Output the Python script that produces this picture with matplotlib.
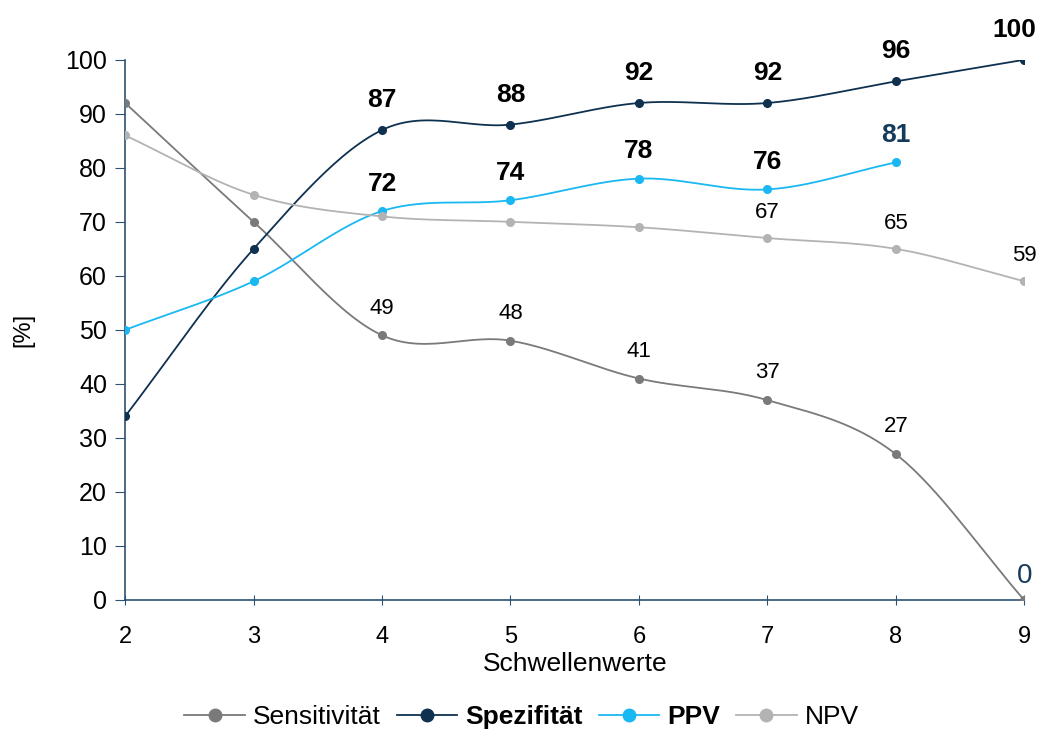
import numpy as np
import matplotlib.pyplot as plt

plt.rcParams['font.family'] = ['Liberation Sans', 'DejaVu Sans']

schwellen = [2, 3, 4, 5, 6, 7, 8, 9]
sensitivitaet = [92, 70, 49, 48, 41, 37, 27, 0]
spezifitaet = [34, 65, 87, 88, 92, 92, 96, 100]
ppv = [50, 59, 72, 74, 78, 76, 81]
npv = [86, 75, 71, 70, 69, 67, 65, 59]

c_sens = '#7a7a7a'
c_spez = '#0f3150'
c_ppv = '#1ab8f2'
c_npv = '#b3b3b3'
c_axis = '#2b5173'


def smooth(x, y, n=30):
    # Catmull-Rom spline, like Excel's smoothed lines
    x = np.asarray(x, float)
    y = np.asarray(y, float)
    px = np.concatenate([[2 * x[0] - x[1]], x, [2 * x[-1] - x[-2]]])
    py = np.concatenate([[2 * y[0] - y[1]], y, [2 * y[-1] - y[-2]]])
    xs, ys = [], []
    t = np.linspace(0, 1, n)
    for i in range(1, len(px) - 2):
        for p, out in ((px, xs), (py, ys)):
            p0, p1, p2, p3 = p[i - 1], p[i], p[i + 1], p[i + 2]
            out.extend(0.5 * ((2 * p1) + (-p0 + p2) * t
                              + (2 * p0 - 5 * p1 + 4 * p2 - p3) * t ** 2
                              + (-p0 + 3 * p1 - 3 * p2 + p3) * t ** 3))
    return xs, ys


fig = plt.figure(figsize=(10.43, 7.38), dpi=100)
ax = fig.add_axes([0.12, 0.187, 0.862, 0.732])

series = [
    ('Sensitivität', schwellen, sensitivitaet, c_sens),
    ('Spezifität', schwellen, spezifitaet, c_spez),
    ('PPV', schwellen[:len(ppv)], ppv, c_ppv),
    ('NPV', schwellen, npv, c_npv),
]
for name, xv, yv, col in series:
    sx, sy = smooth(xv, yv)
    ax.plot(sx, sy, color=col, lw=1.3, zorder=3)
    ax.plot(xv, yv, 'o', color=col, ms=5.5, zorder=4)
    ax.plot([], [], '-o', color=col, lw=1.3, ms=9, label=name)

# data labels
for xv, yv in zip(schwellen[2:], spezifitaet[2:]):
    dx = -7 if xv == schwellen[-1] else 0
    ax.annotate(str(yv), (xv, yv), xytext=(dx, 13), textcoords='offset points',
                ha='center', va='bottom', fontsize=19, fontweight='bold', color='black')
for xv, yv in zip(schwellen[2:6], ppv[2:6]):
    ax.annotate(str(yv), (xv, yv), xytext=(0, 11), textcoords='offset points',
                ha='center', va='bottom', fontsize=19, fontweight='bold', color='black')
ax.annotate(str(ppv[6]), (schwellen[6], ppv[6]), xytext=(0, 11), textcoords='offset points',
            ha='center', va='bottom', fontsize=19, fontweight='bold', color='#163a5c')
for xv, yv in zip(schwellen[2:7], sensitivitaet[2:7]):
    ax.annotate(str(yv), (xv, yv), xytext=(0, 12), textcoords='offset points',
                ha='center', va='bottom', fontsize=16, color='black')
ax.annotate(str(sensitivitaet[7]), (schwellen[7], sensitivitaet[7]), xytext=(0, 8),
            textcoords='offset points', ha='center', va='bottom', fontsize=20, color='#163a5c')
for xv, yv in zip(schwellen[5:], npv[5:]):
    ax.annotate(str(yv), (xv, yv), xytext=(0, 11), textcoords='offset points',
                ha='center', va='bottom', fontsize=16, color='black')

ax.set_xlim(2, 9)
ax.set_ylim(0, 100)
ax.set_xticks(schwellen)
ax.set_yticks(range(0, 101, 10))
ax.tick_params(axis='y', labelsize=18, length=7, color=c_axis, direction='out', pad=6)
ax.tick_params(axis='x', labelsize=17, length=7, color=c_axis, direction='inout', pad=15)
for side in ('top', 'right'):
    ax.spines[side].set_visible(False)
for side in ('left', 'bottom'):
    ax.spines[side].set_color(c_axis)
    ax.spines[side].set_linewidth(1.2)

ax.set_ylabel('[%]', fontsize=17, labelpad=22)
ax.set_xlabel('Schwellenwerte', fontsize=19, labelpad=3)

leg = fig.legend(loc='lower center', bbox_to_anchor=(0.5, -0.02), ncol=4, frameon=False,
                 fontsize=19, handlelength=2.3, columnspacing=0.6, handletextpad=0.3)
for txt in leg.get_texts():
    if txt.get_text() in ('Spezifität', 'PPV'):
        txt.set_fontweight('bold')

fig.savefig('out.png', dpi=100)
